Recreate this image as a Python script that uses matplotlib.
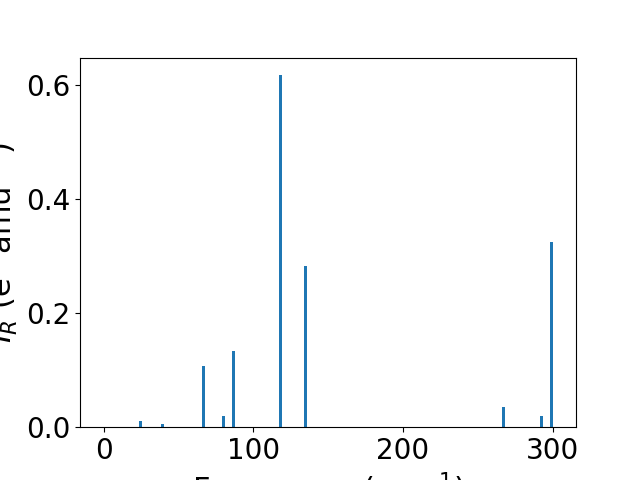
import matplotlib
matplotlib.use("Agg")
import matplotlib.pyplot as plt

# vibrational frequencies (cm^-1) and IR intensities
freqs = [24.7, 39.0, 66.4, 79.8, 86.5, 118.4, 135.1, 267.1, 292.5, 299.2]
intensities = [0.010, 0.005, 0.107, 0.019, 0.134, 0.617, 0.283, 0.035, 0.019, 0.324]

plt.rcParams['font.size'] = 20

fig, ax = plt.subplots(figsize=(6.4, 4.8), dpi=100)
ax.bar(freqs, intensities, width=2, color='#1f77b4')
ax.set_xlim(-16, 315.7)
ax.set_xlabel('Frequency (cm$^{-1}$)', fontsize=22)
ax.set_ylabel('$I_R$ (e$^2$ amu$^{-1}$)', fontsize=22)

fig.savefig('out.png')
